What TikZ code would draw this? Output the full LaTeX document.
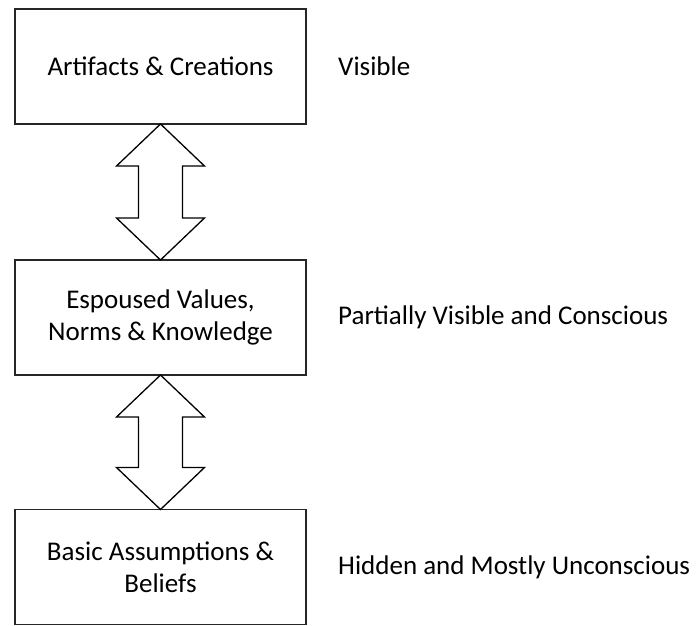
\documentclass[tikz,border=0pt]{standalone}
\usepackage{fontspec}
\setmainfont{Carlito}
\usetikzlibrary{calc}
\begin{document}
\begin{tikzpicture}[x=1pt,y=-1pt,
  layer/.style={draw=black!85, line width=1.8pt, minimum width=291pt, minimum height=115pt,
    align=center, font=\fontsize{27}{32}\selectfont, inner sep=0pt, outer sep=0pt},
  side/.style={anchor=west, font=\fontsize{27}{32}\selectfont, inner sep=0pt},
  link/.style={draw=black, line width=1.3pt, fill=white, line join=miter}]
\useasboundingbox (0,0) rectangle (696,626);

\node[layer] (b1) at (160.5,66.5) {Artifacts \& Creations};
\node[layer] (b2) at (160.5,317.5) {Espoused Values,\\Norms \& Knowledge};
\node[layer] (b3) at (160.5,567) {Basic Assumptions \&\\Beliefs};

\node[side] (l1) at (338,66.5) {Visible};
\node[side] (l2) at (338,317.5) {Partially Visible and Conscious};
\node[side] (l3) at (338,567) {Hidden and Mostly Unconscious};

% double-headed block arrows between neighbouring layers
\foreach \a/\b in {b1/b2, b2/b3}{
  \draw[link] (\a.south)
    -- ($(\a.south)+(44,42)$) -- ($(\a.south)+(22,42)$)
    -- ($(\b.north)+(22,-42)$) -- ($(\b.north)+(44,-42)$)
    -- (\b.north)
    -- ($(\b.north)+(-44,-42)$) -- ($(\b.north)+(-22,-42)$)
    -- ($(\a.south)+(-22,42)$) -- ($(\a.south)+(-44,42)$)
    -- cycle;
}
\end{tikzpicture}
\end{document}
